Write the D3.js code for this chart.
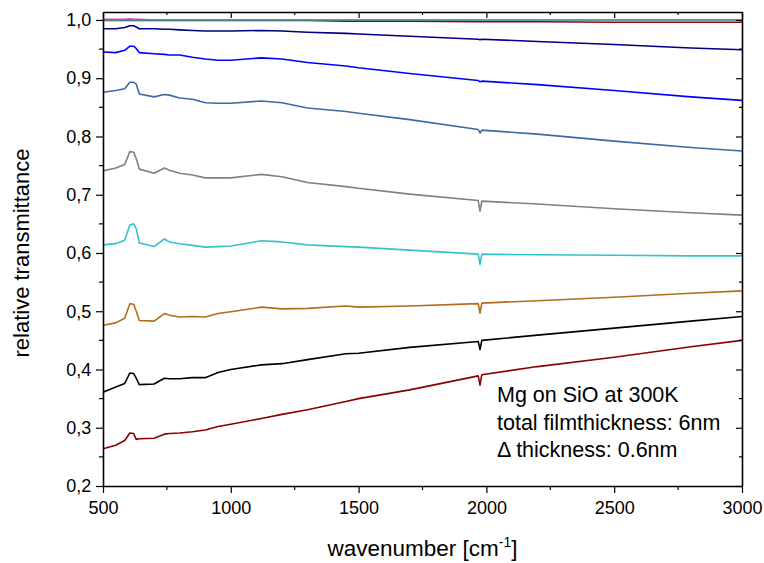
<!DOCTYPE html>
<html>
<head>
<meta charset="utf-8">
<script src="https://cdn.jsdelivr.net/npm/d3@7"></script>
<style>
  body { margin: 0; background: #fff; }
  svg { font-family: "Liberation Sans", Arial, sans-serif; }
  .axis path, .axis line { stroke: #000; }
</style>
</head>
<body>
<div id="chart"></div>
<script>
const width = 764
const height = 563

// wavenumber grid (cm^-1)
const wn = [500, 550, 585, 605, 620, 630, 642, 700, 740, 760, 800, 850, 900, 950, 1000, 1120, 1200, 1300, 1450, 1500, 1700, 1968, 1975, 1982, 2200, 2500, 2800, 3000]

// relative transmittance per deposition step
const topMagenta = [1.001, 1.001, 1.001, 1.002, 1.001, 1.001, 1.001, 1.000, 1.000, 1.000, 1.000, 1.000, 1.000, 1.000, 1.000, 1.000, 1.000, 1.000, 1.000, 1.000, 1.000, 1.000, 1.000, 1.000, 1.000, 1.000, 1.000, 1.000]
const topRed = [0.999, 0.999, 0.999, 0.999, 0.999, 0.999, 0.999, 0.999, 0.999, 0.999, 0.999, 0.999, 0.999, 0.999, 0.999, 0.999, 0.999, 0.999, 0.998, 0.998, 0.998, 0.997, 0.997, 0.997, 0.997, 0.996, 0.996, 0.996]
const topCyan = [1.000, 1.000, 1.000, 1.000, 1.000, 1.000, 1.000, 1.000, 1.000, 1.000, 1.000, 1.000, 1.000, 1.000, 1.000, 1.000, 1.000, 1.000, 1.000, 1.000, 1.000, 1.000, 1.000, 1.000, 1.000, 1.000, 1.000, 1.000]
const navy = [0.985, 0.985, 0.987, 0.990, 0.990, 0.988, 0.985, 0.985, 0.984, 0.984, 0.983, 0.982, 0.981, 0.981, 0.981, 0.982, 0.981, 0.979, 0.977, 0.976, 0.972, 0.967, 0.966, 0.967, 0.963, 0.958, 0.952, 0.949]
const blue = [0.945, 0.944, 0.948, 0.955, 0.955, 0.951, 0.944, 0.942, 0.941, 0.940, 0.940, 0.936, 0.933, 0.931, 0.931, 0.935, 0.933, 0.927, 0.921, 0.918, 0.908, 0.896, 0.894, 0.895, 0.889, 0.879, 0.868, 0.862]
const steel = [0.876, 0.879, 0.882, 0.893, 0.893, 0.890, 0.873, 0.868, 0.872, 0.871, 0.866, 0.864, 0.858, 0.857, 0.857, 0.861, 0.858, 0.849, 0.843, 0.840, 0.829, 0.812, 0.806, 0.811, 0.804, 0.792, 0.781, 0.775]
const gray = [0.741, 0.746, 0.752, 0.774, 0.773, 0.762, 0.744, 0.737, 0.746, 0.742, 0.737, 0.734, 0.729, 0.729, 0.729, 0.735, 0.731, 0.721, 0.714, 0.711, 0.701, 0.690, 0.672, 0.689, 0.684, 0.676, 0.669, 0.665]
const cyan = [0.614, 0.616, 0.622, 0.648, 0.650, 0.642, 0.617, 0.611, 0.624, 0.619, 0.616, 0.613, 0.610, 0.611, 0.612, 0.621, 0.619, 0.614, 0.611, 0.610, 0.605, 0.598, 0.580, 0.598, 0.597, 0.596, 0.595, 0.595]
const brown = [0.476, 0.480, 0.488, 0.513, 0.512, 0.500, 0.484, 0.483, 0.496, 0.493, 0.490, 0.491, 0.490, 0.496, 0.499, 0.507, 0.504, 0.505, 0.509, 0.507, 0.509, 0.513, 0.497, 0.514, 0.518, 0.524, 0.531, 0.535]
const black = [0.361, 0.370, 0.376, 0.394, 0.393, 0.385, 0.374, 0.375, 0.385, 0.384, 0.384, 0.386, 0.386, 0.395, 0.400, 0.408, 0.410, 0.417, 0.427, 0.428, 0.438, 0.448, 0.434, 0.450, 0.459, 0.471, 0.483, 0.491]
const darkRed = [0.264, 0.270, 0.278, 0.291, 0.290, 0.280, 0.281, 0.282, 0.289, 0.290, 0.291, 0.293, 0.296, 0.302, 0.306, 0.316, 0.323, 0.331, 0.345, 0.350, 0.365, 0.389, 0.373, 0.391, 0.405, 0.421, 0.439, 0.450]

const series = [
  {values: topMagenta, color: '#cc44aa'},
  {values: topRed, color: '#990000'},
  {values: topCyan, color: '#33aaaa'},
  {values: navy, color: '#000080'},
  {values: blue, color: '#0000ff'},
  {values: steel, color: '#3a6ba5'},
  {values: gray, color: '#808080'},
  {values: cyan, color: '#33c3cc'},
  {values: brown, color: '#b06e1c'},
  {values: black, color: '#000000'},
  {values: darkRed, color: '#8b0000'}
]

const xTicks = [500, 1000, 1500, 2000, 2500, 3000]
const yTicks = [0.2, 0.3, 0.4, 0.5, 0.6, 0.7, 0.8, 0.9, 1.0]
const notes = ['Mg on SiO at 300K', 'total filmthickness: 6nm', '\u0394 thickness: 0.6nm']

const margin = {left: 103, right: 22, top: 12, bottom: 77}
const iw = width - margin.left - margin.right
const ih = height - margin.top - margin.bottom

const svg = d3.select('#chart').append('svg')
  .attr('width', width)
  .attr('height', height)

const x = d3.scaleLinear().domain([500, 3000]).range([margin.left, margin.left + iw])
const y = d3.scaleLinear().domain([0.2, 1.0137]).range([margin.top + ih, margin.top])

const fmt = d => d3.format('.1f')(d).replace('.', ',')

svg.append('clipPath').attr('id', 'clip')
  .append('rect')
  .attr('x', margin.left).attr('y', margin.top)
  .attr('width', iw).attr('height', ih)

const line = d3.line()
  .x((d, i) => x(wn[i]))
  .y(d => y(d))

svg.append('g')
  .attr('clip-path', 'url(#clip)')
  .selectAll('path')
  .data(series)
  .enter().append('path')
  .attr('d', d => line(d.values))
  .attr('fill', 'none')
  .attr('stroke', d => d.color)
  .attr('stroke-width', 1.6)
  .attr('stroke-linejoin', 'round')

// minor ticks
const xMinor = d3.range(750, 3000, 500)
const yMinor = d3.range(0.25, 1.0, 0.1)

// bottom
const gx = svg.append('g').attr('class', 'axis')
  .attr('transform', 'translate(0,' + (margin.top + ih) + ')')
  .call(d3.axisBottom(x).tickValues(xTicks).tickSize(7).tickSizeOuter(0).tickFormat(d3.format('d')))
gx.selectAll('text').attr('font-size', 18).attr('dy', '1.0em')
gx.selectAll('.minor').data(xMinor).enter().append('line')
  .attr('class', 'minor')
  .attr('x1', d => x(d)).attr('x2', d => x(d))
  .attr('y1', 0).attr('y2', 4)
  .attr('stroke', '#000')

// top
const gxt = svg.append('g').attr('class', 'axis')
  .attr('transform', 'translate(0,' + margin.top + ')')
  .call(d3.axisBottom(x).tickValues(xTicks).tickSize(6).tickSizeOuter(0).tickFormat(''))
gxt.selectAll('.minor').data(xMinor).enter().append('line')
  .attr('class', 'minor')
  .attr('x1', d => x(d)).attr('x2', d => x(d))
  .attr('y1', 0).attr('y2', 3)
  .attr('stroke', '#000')

// left
const gy = svg.append('g').attr('class', 'axis')
  .attr('transform', 'translate(' + margin.left + ',0)')
  .call(d3.axisLeft(y).tickValues(yTicks).tickSize(7).tickSizeOuter(0).tickFormat(fmt))
gy.selectAll('text').attr('font-size', 18).attr('dx', '-0.1em')
gy.selectAll('.minor').data(yMinor).enter().append('line')
  .attr('class', 'minor')
  .attr('y1', d => y(d)).attr('y2', d => y(d))
  .attr('x1', 0).attr('x2', -4)
  .attr('stroke', '#000')

// right
const gyr = svg.append('g').attr('class', 'axis')
  .attr('transform', 'translate(' + (margin.left + iw) + ',0)')
  .call(d3.axisLeft(y).tickValues(yTicks).tickSize(6).tickSizeOuter(0).tickFormat(''))
gyr.selectAll('.minor').data(yMinor).enter().append('line')
  .attr('class', 'minor')
  .attr('y1', d => y(d)).attr('y2', d => y(d))
  .attr('x1', 0).attr('x2', -3)
  .attr('stroke', '#000')

svg.selectAll('.axis path.domain').attr('stroke-width', 1.6)
svg.selectAll('.axis line').attr('stroke-width', 1.2)

// axis titles
const xt = svg.append('text')
  .attr('x', x(1750)).attr('y', 556)
  .attr('text-anchor', 'middle')
  .attr('font-size', 22.5)
xt.append('tspan').text('wavenumber [cm')
xt.append('tspan').attr('dy', -9).attr('font-size', 14).text('-1')
xt.append('tspan').attr('dy', 9).text(']')

svg.append('text')
  .attr('transform', 'translate(29,' + y(0.6) + ') rotate(-90)')
  .attr('text-anchor', 'middle')
  .attr('font-size', 22)
  .text('relative transmittance')

// annotation
svg.append('g').selectAll('text')
  .data(notes)
  .enter().append('text')
  .attr('x', 497)
  .attr('y', (d, i) => 402 + i * 27.5)
  .attr('font-size', 21.5)
  .text(d => d)
</script>
</body>
</html>
